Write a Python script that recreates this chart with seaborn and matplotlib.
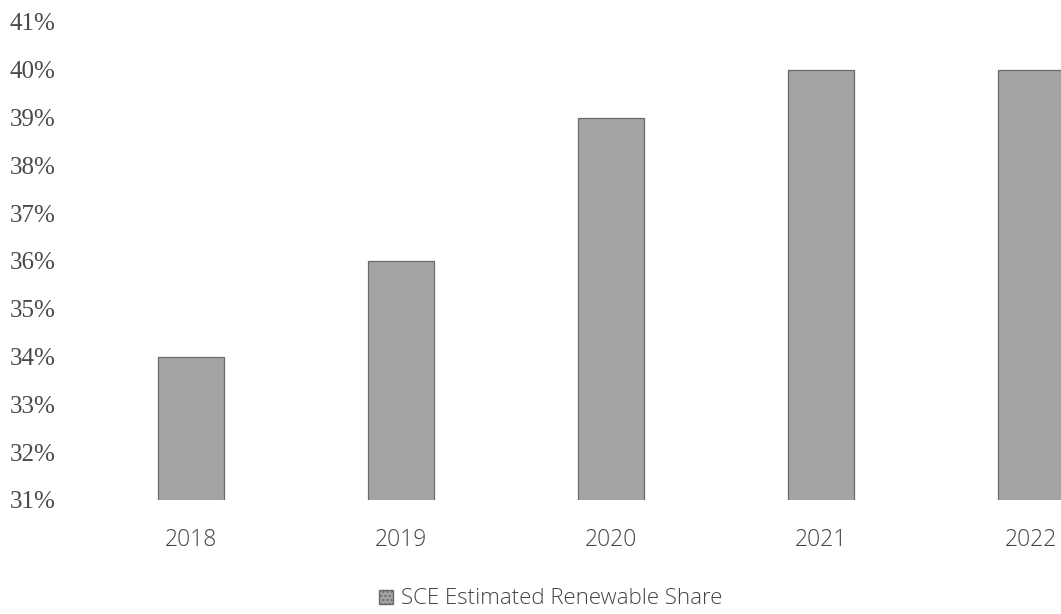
import matplotlib.pyplot as plt
import seaborn as sns
import pandas as pd
from matplotlib.patches import Patch

# Data
years = ["2018", "2019", "2020", "2021", "2022"]
renewable_share = [34, 36, 39, 40, 40]
y_ticks = list(range(31, 42))
series_name = "SCE Estimated Renewable Share"

sns.set_theme(style="white")
plt.rcParams["font.family"] = ["Open Sans", "DejaVu Sans"]

df = pd.DataFrame({"year": years, "share": renewable_share})

fig = plt.figure(figsize=(10.61, 6.14), dpi=100)
# axes runs off the right edge, as in the cropped reference
ax = fig.add_axes([86 / 1061, 114 / 614, (1061 - 86) / 1061, 478 / 614])

sns.barplot(data=df, x="year", y="share", color="#a4a4a4", width=0.31,
            edgecolor="#6a6a6a", linewidth=0.9, saturation=1, ax=ax)

ax.set_ylim(31, 41)
ax.set_xlim(-0.5, 4.143)
ax.set_yticks(y_ticks)
ax.set_yticklabels([f"{t}%" for t in y_ticks], family=["Liberation Serif", "DejaVu Serif"],
                   fontsize=18, color="#4a4a4a")
ax.tick_params(axis="y", length=0, pad=55)
for lbl in ax.get_yticklabels():
    lbl.set_horizontalalignment("left")
ax.tick_params(axis="x", length=0, pad=20)
for lbl in ax.get_xticklabels():
    lbl.set_fontsize(16.5)
    lbl.set_fontweight("light")
    lbl.set_color("#444444")
ax.set_xlabel("")
ax.set_ylabel("")
sns.despine(ax=ax, left=True, bottom=True)
ax.grid(False)

handle = Patch(facecolor="#a4a4a4", edgecolor="#6a6a6a", hatch="....", label=series_name)
leg = fig.legend(handles=[handle], loc="center", bbox_to_anchor=(551 / 1061, 1 - 599 / 614),
                 frameon=False, fontsize=16, handlelength=0.6, handleheight=0.6,
                 handletextpad=0.4, labelcolor="#444444")
for t in leg.get_texts():
    t.set_fontweight("light")

fig.savefig("out.png", dpi=100)
